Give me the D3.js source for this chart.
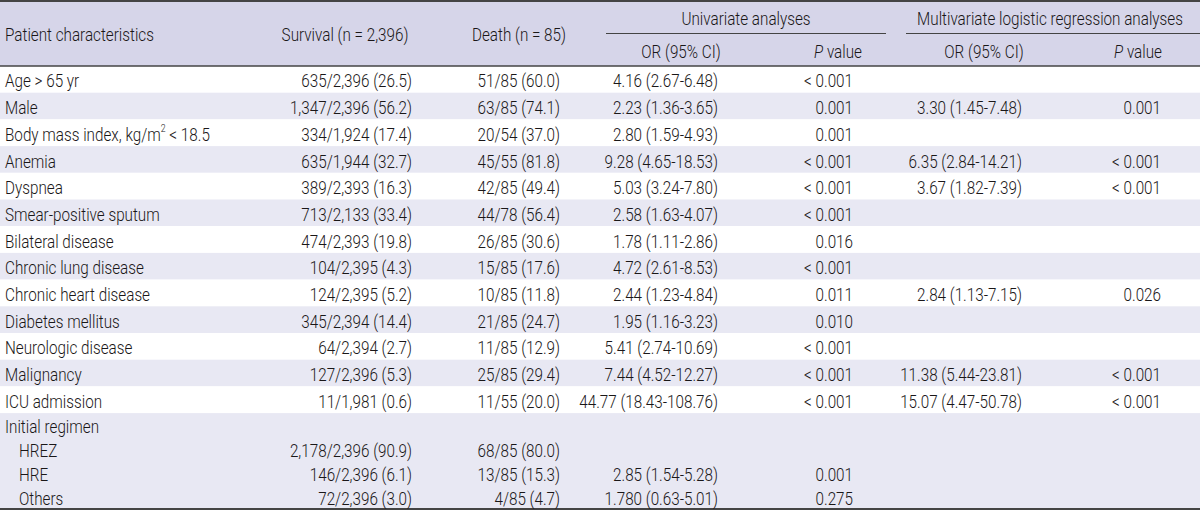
<!DOCTYPE html>
<html><head><meta charset="utf-8">
<script src="https://cdn.jsdelivr.net/npm/d3@7"></script>
<style>
html,body{margin:0;padding:0;background:#fff;}
svg{display:block;}
text{font-family:Roboto,"Liberation Sans",sans-serif;font-weight:300;font-size:19px;fill:#1a1718;}
</style></head>
<body>
<svg id="chart" width="1200" height="511"></svg>
<script>
// ---- data ----
const characteristics = ["Age > 65 yr","Male","Body mass index, kg/m2 < 18.5","Anemia","Dyspnea","Smear-positive sputum","Bilateral disease","Chronic lung disease","Chronic heart disease","Diabetes mellitus","Neurologic disease","Malignancy","ICU admission","Initial regimen","HREZ","HRE","Others"];
const survival = ["635/2,396 (26.5)","1,347/2,396 (56.2)","334/1,924 (17.4)","635/1,944 (32.7)","389/2,393 (16.3)","713/2,133 (33.4)","474/2,393 (19.8)","104/2,395 (4.3)","124/2,395 (5.2)","345/2,394 (14.4)","64/2,394 (2.7)","127/2,396 (5.3)","11/1,981 (0.6)","","2,178/2,396 (90.9)","146/2,396 (6.1)","72/2,396 (3.0)"];
const death = ["51/85 (60.0)","63/85 (74.1)","20/54 (37.0)","45/55 (81.8)","42/85 (49.4)","44/78 (56.4)","26/85 (30.6)","15/85 (17.6)","10/85 (11.8)","21/85 (24.7)","11/85 (12.9)","25/85 (29.4)","11/55 (20.0)","","68/85 (80.0)","13/85 (15.3)","4/85 (4.7)"];
const uniOR = ["4.16 (2.67-6.48)","2.23 (1.36-3.65)","2.80 (1.59-4.93)","9.28 (4.65-18.53)","5.03 (3.24-7.80)","2.58 (1.63-4.07)","1.78 (1.11-2.86)","4.72 (2.61-8.53)","2.44 (1.23-4.84)","1.95 (1.16-3.23)","5.41 (2.74-10.69)","7.44 (4.52-12.27)","44.77 (18.43-108.76)","","","2.85 (1.54-5.28)","1.780 (0.63-5.01)"];
const uniP = ["< 0.001","0.001","0.001","< 0.001","< 0.001","< 0.001","0.016","< 0.001","0.011","0.010","< 0.001","< 0.001","< 0.001","","","0.001","0.275"];
const multiOR = ["","3.30 (1.45-7.48)","","6.35 (2.84-14.21)","3.67 (1.82-7.39)","","","","2.84 (1.13-7.15)","","","11.38 (5.44-23.81)","15.07 (4.47-50.78)","","","",""];
const multiP = ["","0.001","","< 0.001","< 0.001","","","","0.026","","","< 0.001","< 0.001","","","",""];
const indented = [false,false,false,false,false,false,false,false,false,false,false,false,false,false,true,true,true];
const groupOf = [0,1,2,3,4,5,6,7,8,9,10,11,12,13,13,13,13];

// ---- layout ----
const W = 1200, H = 511;
const headerBottom = 66, tableBottom = 509;
const singleH = 26.7;
const svg = d3.select("#chart");
const textDy = 1.5;

const nSingle = 13;
const ySingle = d3.scaleLinear().domain([0, nSingle]).range([headerBottom, headerBottom + nSingle*singleH]);
const blockTop = ySingle(nSingle);
const yBlock = d3.scaleLinear().domain([0, 4]).range([blockTop, tableBottom]);
function rowTop(i){ return i < nSingle ? ySingle(i) : yBlock(i - nSingle); }
function rowBot(i){ return i < nSingle ? ySingle(i+1) : yBlock(i - nSingle + 1); }
function rowMid(i){ return (rowTop(i)+rowBot(i))/2; }

const colNames = ["label","survival","death","uniOR","uniP","multiOR","multiP"];
const colX = d3.scaleOrdinal().domain(colNames).range([5, 412, 560, 718, 853, 1022, 1161]);

// horizontal condensing factor, measured from the header label width in the reference (~149px)
const probe = svg.append("text").text("Patient characteristics");
const sx = 149 / probe.node().getComputedTextLength();
probe.remove();

function addText(parent, x, y, anchor){
  return parent.append("text").attr("x",0).attr("y",0)
    .attr("transform",`translate(${x},${y}) scale(${sx},1)`)
    .attr("text-anchor",anchor||"start").attr("dominant-baseline","central");
}

// header background
svg.append("rect").attr("x",0).attr("y",0).attr("width",W).attr("height",headerBottom).attr("fill","#d6d5e9");

// stripes
const groups = [];
for (let g=0; g<=13; g++){
  const idx = groupOf.map((v,i)=>v===g?i:-1).filter(i=>i>=0);
  groups.push({g, top: rowTop(idx[0]), bot: rowBot(idx[idx.length-1])});
}
svg.selectAll("rect.stripe").data(groups).join("rect").attr("class","stripe")
  .attr("x",0).attr("width",W)
  .attr("y",d=>d.top).attr("height",d=>d.bot-d.top)
  .attr("fill",d=>d.g%2===1?"#e8e8f3":"#ffffff");

// rules
svg.append("line").attr("x1",0).attr("x2",W).attr("y1",1).attr("y2",1).attr("stroke","#444").attr("stroke-width",2);
svg.append("line").attr("x1",0).attr("x2",W).attr("y1",headerBottom).attr("y2",headerBottom).attr("stroke","#444").attr("stroke-width",1.5);
svg.append("line").attr("x1",0).attr("x2",W).attr("y1",tableBottom).attr("y2",tableBottom).attr("stroke","#444").attr("stroke-width",2);
svg.append("line").attr("x1",606).attr("x2",886).attr("y1",33.5).attr("y2",33.5).attr("stroke","#444").attr("stroke-width",1.2);
svg.append("line").attr("x1",906).attr("x2",1200).attr("y1",33.5).attr("y2",33.5).attr("stroke","#444").attr("stroke-width",1.2);

// header text
const hdr = svg.append("g");
addText(hdr,5,34.5,"start").text("Patient characteristics");
addText(hdr,345,34.5,"middle").text("Survival (n = 2,396)");
addText(hdr,519,34.5,"middle").text("Death (n = 85)");
addText(hdr,746,18,"middle").text("Univariate analyses");
addText(hdr,1050,18,"middle").text("Multivariate logistic regression analyses");
addText(hdr,681,51,"middle").text("OR (95% CI)");
addText(hdr,984,51,"middle").text("OR (95% CI)");
function pval(x){
  const t = addText(hdr,x,51,"middle");
  t.append("tspan").attr("font-style","italic").text("P");
  t.append("tspan").text(" value");
}
pval(838); pval(1138);

// body
const rows = characteristics.map((c,i)=>({i, label:c, survival:survival[i], death:death[i], uniOR:uniOR[i], uniP:uniP[i], multiOR:multiOR[i], multiP:multiP[i], indent:indented[i]}));
const body = svg.append("g");
const rowG = body.selectAll("g.row").data(rows).join("g").attr("class","row")
  .attr("transform",d=>`translate(0,${rowMid(d.i)+textDy})`);

rowG.each(function(d){
  const g = d3.select(this);
  const lab = addText(g, colX("label") + (d.indent?14:0), 0, "start");
  if (d.label.indexOf("kg/m2") >= 0){
    const parts = d.label.split("kg/m2");
    lab.append("tspan").text(parts[0] + "kg/m");
    lab.append("tspan").attr("font-size","11px").attr("dy","-7").text("2");
    lab.append("tspan").attr("dy","7").text(parts[1]);
  } else lab.text(d.label);
  ["survival","death","uniOR","uniP","multiOR","multiP"].forEach(k=>{
    if (d[k]) addText(g, colX(k), 0, "end").text(d[k]);
  });
});
</script>
</body></html>
